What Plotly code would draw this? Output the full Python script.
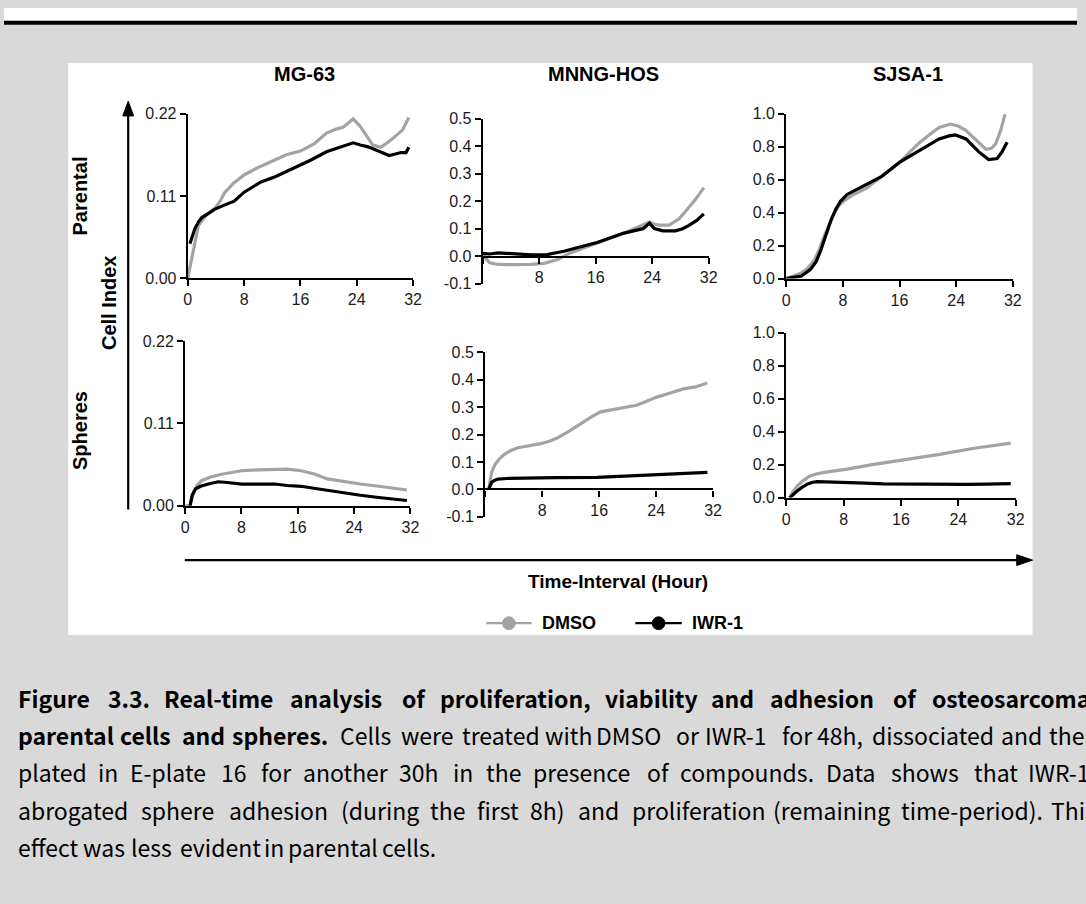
import plotly.graph_objects as go

W, H = 1086, 904

# ---------------- data (hours, cell index) ----------------
cell_lines = ["MG-63", "MNNG-HOS", "SJSA-1"]
rows = ["Parental", "Spheres"]
series_names = ["DMSO", "IWR-1"]
x_tick_vals = [0, 8, 16, 24, 32]

# MG-63 parental
mg_par_t_dmso = [0, 0.4, 0.8, 1.5, 2.5, 3.8, 4.6, 5.2, 6.5, 8.0, 10.0, 12.3, 14.0, 16.0, 18.0, 19.7, 21.0, 22.1, 23.5, 24.5, 25.5, 26.3, 27.4, 28.5, 29.5, 30.5, 31.4]
mg_par_dmso = [0.0, 0.020, 0.038, 0.070, 0.083, 0.093, 0.103, 0.114, 0.127, 0.138, 0.148, 0.158, 0.165, 0.170, 0.180, 0.194, 0.199, 0.202, 0.213, 0.203, 0.190, 0.178, 0.175, 0.182, 0.190, 0.198, 0.215]
mg_par_t_iwr = [0.3, 0.6, 1.0, 1.5, 2.0, 3.0, 3.8, 5.0, 6.6, 8.0, 10.4, 12.5, 15.1, 17.5, 19.7, 21.5, 23.5, 24.5, 25.5, 26.3, 27.5, 28.6, 29.5, 30.3, 31.0, 31.4]
mg_par_iwr = [0.046, 0.055, 0.066, 0.075, 0.081, 0.087, 0.092, 0.097, 0.103, 0.115, 0.1286, 0.136, 0.147, 0.158, 0.169, 0.175, 0.181, 0.178, 0.176, 0.173, 0.168, 0.164, 0.166, 0.168, 0.168, 0.175]

# MNNG-HOS parental
mn_par_t_dmso = [0, 0.5, 1.0, 2.2, 4.0, 6.8, 8.7, 10.6, 12.4, 14.0, 16.2, 18.0, 19.9, 21.5, 22.7, 23.6, 24.3, 25.0, 26.4, 27.8, 29.2, 30.3, 31.3]
mn_par_dmso = [0.012, -0.010, -0.024, -0.030, -0.031, -0.030, -0.026, -0.012, 0.012, 0.028, 0.047, 0.065, 0.083, 0.100, 0.115, 0.124, 0.116, 0.113, 0.113, 0.136, 0.178, 0.212, 0.249]
mn_par_t_iwr = [0, 1.0, 2.2, 4.0, 6.8, 9.1, 11.5, 14.0, 16.2, 18.0, 19.9, 21.5, 22.7, 23.6, 24.3, 25.5, 27.3, 28.3, 29.2, 30.3, 31.3]
mn_par_iwr = [0.010, 0.008, 0.012, 0.010, 0.005, 0.006, 0.018, 0.035, 0.050, 0.066, 0.083, 0.093, 0.100, 0.120, 0.100, 0.092, 0.092, 0.100, 0.112, 0.130, 0.154]

# SJSA-1 parental
sj_par_t_dmso = [0, 1.0, 2.1, 3.0, 4.0, 4.7, 5.3, 6.0, 6.7, 7.4, 8.1, 9.5, 11.4, 13.5, 16.1, 17.5, 18.9, 20.3, 21.6, 23.2, 24.3, 25.4, 26.8, 28.2, 29.0, 29.6, 30.3, 30.9]
sj_par_dmso = [0.0, 0.015, 0.034, 0.060, 0.113, 0.180, 0.252, 0.320, 0.391, 0.440, 0.470, 0.510, 0.550, 0.620, 0.708, 0.770, 0.827, 0.875, 0.917, 0.937, 0.925, 0.897, 0.840, 0.784, 0.790, 0.818, 0.900, 0.996]
sj_par_t_iwr = [0, 1.0, 2.1, 3.4, 4.2, 4.9, 5.6, 6.3, 7.0, 7.7, 8.6, 10.0, 11.4, 13.5, 16.1, 18.9, 21.6, 23.0, 23.9, 25.4, 26.3, 27.2, 28.6, 29.8, 30.5, 31.2]
sj_par_iwr = [0.0, 0.005, 0.014, 0.054, 0.100, 0.173, 0.260, 0.351, 0.420, 0.470, 0.510, 0.540, 0.570, 0.620, 0.708, 0.778, 0.847, 0.865, 0.871, 0.847, 0.810, 0.768, 0.722, 0.728, 0.770, 0.827]

# MG-63 spheres
mg_sph_t_dmso = [0, 0.7, 1.2, 1.7, 2.35, 3.5, 5.2, 8.0, 10.5, 12.7, 14.5, 16.5, 18.5, 20.2, 22.5, 24.9, 27.5, 30.5, 31.5]
mg_sph_dmso = [0.0, 0.0, 0.018, 0.027, 0.0335, 0.038, 0.042, 0.0467, 0.048, 0.0489, 0.049, 0.0467, 0.042, 0.0358, 0.032, 0.029, 0.026, 0.0227, 0.021]
mg_sph_t_iwr = [0.7, 1.0, 1.5, 2.2, 3.3, 4.7, 6.0, 8.0, 10.5, 12.7, 14.5, 16.5, 18.5, 20.2, 22.5, 24.9, 27.5, 30.5, 31.5]
mg_sph_iwr = [0.0, 0.014, 0.0227, 0.026, 0.029, 0.032, 0.031, 0.029, 0.029, 0.029, 0.027, 0.026, 0.023, 0.0205, 0.017, 0.014, 0.011, 0.0083, 0.007]

# MNNG-HOS spheres
mn_sph_t_dmso = [0.5, 0.7, 0.9, 1.4, 2.0, 2.7, 3.6, 4.6, 6.0, 7.8, 9.0, 10.1, 11.8, 13.4, 14.8, 16.2, 18.5, 21.25, 22.5, 24.0, 26.0, 27.7, 29.5, 31.2]
mn_sph_dmso = [0.0, 0.035, 0.062, 0.092, 0.112, 0.128, 0.142, 0.152, 0.158, 0.167, 0.176, 0.1875, 0.213, 0.241, 0.263, 0.283, 0.295, 0.307, 0.320, 0.336, 0.352, 0.366, 0.374, 0.388]
mn_sph_t_iwr = [0.5, 0.7, 0.9, 1.3, 1.8, 3.0, 6.4, 10.0, 15.7, 20.3, 24.9, 28.0, 31.2]
mn_sph_iwr = [0.0, 0.015, 0.026, 0.033, 0.038, 0.040, 0.042, 0.043, 0.044, 0.050, 0.056, 0.059, 0.062]

# SJSA-1 spheres
sj_sph_t_dmso = [0.5, 0.9, 1.6, 2.4, 3.4, 4.3, 5.3, 8.5, 12.2, 16.8, 21.4, 26.0, 31.3]
sj_sph_dmso = [0.0, 0.035, 0.073, 0.105, 0.133, 0.145, 0.153, 0.173, 0.202, 0.232, 0.262, 0.298, 0.331]
sj_sph_t_iwr = [0.5, 0.9, 1.6, 2.3, 3.0, 3.7, 4.3, 5.5, 8.5, 11.0, 13.5, 17.0, 20.4, 25.0, 28.0, 31.3]
sj_sph_iwr = [0.0, 0.018, 0.043, 0.065, 0.083, 0.093, 0.097, 0.096, 0.093, 0.088, 0.083, 0.081, 0.080, 0.080, 0.082, 0.085]

# y-axis ticks per column
mg_y_ticks = [0.0, 0.11, 0.22]
mn_y_ticks = [-0.1, 0.0, 0.1, 0.2, 0.3, 0.4, 0.5]
sj_y_ticks = [0.0, 0.2, 0.4, 0.6, 0.8, 1.0]

# caption: (bold part, normal part, justified?)
caption_lines = [
    ("Figure 3.3. Real-time analysis of proliferation, viability and adhesion of osteosarcoma", "", True),
    ("parental cells and spheres.", "Cells were treated with DMSO or IWR-1 for 48h, dissociated and then", True),
    ("", "plated in E-plate 16 for another 30h in the presence of compounds. Data shows that IWR-1", True),
    ("", "abrogated sphere adhesion (during the first 8h) and proliferation (remaining time-period). This", True),
    ("", "effect was less evident in parental cells.", False),
]

# ---------------- styling ----------------
GRAY = "#a3a3a3"
BLACK = "#000000"
BG = "#d9d9d9"
FONT = "Liberation Sans"
TICK_FONT = dict(family=FONT, size=16, color="#1a1a1a")
CAP_FONT = "Noto Sans CJK KR"
CAP_SIZE = 23
CAP_WF = 1.07


def pxx(x):
    return x / W


def pyy(y):
    return 1 - y / H


# approximate Helvetica/Arial advance widths (1/1000 em) used to lay out justified words
_REG = dict(zip(" ()-.,:0123456789", [278, 333, 333, 333, 278, 278, 278] + [556] * 10))
_REG.update(dict(zip("ABCDEFGHIJKLMNOPQRSTUVWXYZ",
                     [667, 667, 722, 722, 667, 611, 778, 722, 278, 500, 667, 556, 833, 722, 778, 667, 778, 722, 667, 611, 722, 667, 944, 667, 667, 611])))
_REG.update(dict(zip("abcdefghijklmnopqrstuvwxyz",
                     [556, 556, 500, 556, 556, 278, 556, 556, 222, 222, 500, 222, 833, 556, 556, 556, 556, 333, 500, 278, 556, 500, 722, 500, 500, 500])))
_BOLD = dict(zip(" ()-.,:0123456789", [278, 333, 333, 333, 278, 278, 333] + [556] * 10))
_BOLD.update(dict(zip("ABCDEFGHIJKLMNOPQRSTUVWXYZ",
                      [722, 722, 722, 722, 667, 611, 778, 722, 278, 556, 722, 611, 833, 722, 778, 667, 778, 722, 667, 611, 722, 667, 944, 667, 667, 611])))
_BOLD.update(dict(zip("abcdefghijklmnopqrstuvwxyz",
                      [556, 611, 556, 611, 556, 333, 611, 611, 278, 278, 556, 278, 889, 611, 611, 611, 611, 389, 556, 333, 611, 556, 778, 556, 556, 500])))


def text_w(s, bold):
    tbl = _BOLD if bold else _REG
    return sum(tbl.get(c, 556) for c in s) / 1000 * CAP_SIZE * CAP_WF


# pixel geometry of each panel: (x0, x1, y_top, y_bottom)
panels = [
    dict(t=(mg_par_t_dmso, mg_par_t_iwr), v=(mg_par_dmso, mg_par_iwr), box=(186, 414, 107.7, 275.3),
         yr=[0, 0.22], yt=mg_y_ticks, fmt="{:.2f}", zero_mid=None),
    dict(t=(mn_par_t_dmso, mn_par_t_iwr), v=(mn_par_dmso, mn_par_iwr), box=(484.5, 713.3, 112.7, 281.0),
         yr=[-0.1, 0.5], yt=mn_y_ticks, fmt="{:.1f}", zero_mid=253.3),
    dict(t=(sj_par_t_dmso, sj_par_t_iwr), v=(sj_par_dmso, sj_par_iwr), box=(791.7, 1021, 107.7, 275.7),
         yr=[0, 1.0], yt=sj_y_ticks, fmt="{:.1f}", zero_mid=None),
    dict(t=(mg_sph_t_dmso, mg_sph_t_iwr), v=(mg_sph_dmso, mg_sph_iwr), box=(183.3, 411.3, 339.3, 507.3),
         yr=[0, 0.22], yt=mg_y_ticks, fmt="{:.2f}", zero_mid=None),
    dict(t=(mn_sph_t_dmso, mn_sph_t_iwr), v=(mn_sph_dmso, mn_sph_iwr), box=(487.0, 717.7, 351.0, 518.6),
         yr=[-0.1, 0.5], yt=mn_y_ticks, fmt="{:.1f}", zero_mid=490.7),
    dict(t=(sj_sph_t_dmso, sj_sph_t_iwr), v=(sj_sph_dmso, sj_sph_iwr), box=(791.7, 1024.0, 331.0, 499.0),
         yr=[0, 1.0], yt=sj_y_ticks, fmt="{:.1f}", zero_mid=None),
]

fig = go.Figure()
layout = {}
for i, p in enumerate(panels, start=1):
    xa = "x" if i == 1 else f"x{i}"
    ya = "y" if i == 1 else f"y{i}"
    for k, (name, col) in enumerate(zip(series_names, [GRAY, BLACK])):
        fig.add_trace(go.Scatter(
            x=p["t"][k], y=p["v"][k], xaxis=xa, yaxis=ya, mode="lines",
            line=dict(color=col, width=3.2), showlegend=False, name=name,
        ))
    x0, x1, yt, yb = p["box"]
    xkey = "xaxis" if i == 1 else f"xaxis{i}"
    ykey = "yaxis" if i == 1 else f"yaxis{i}"
    xticktext = [str(v) for v in x_tick_vals]
    xdict = dict(domain=[pxx(x0), pxx(x1)], range=[0, 32], tickvals=x_tick_vals,
                 showline=True, linecolor="black", linewidth=2.2, ticks="outside",
                 ticklen=6, tickwidth=2.2, tickcolor="black", showgrid=False,
                 zeroline=False, tickfont=TICK_FONT, fixedrange=True)
    if p["zero_mid"] is not None:
        xticktext[0] = ""
        xdict.update(anchor="free", position=pyy(p["zero_mid"]))
    else:
        xdict.update(anchor=ya)
    xdict["ticktext"] = xticktext
    layout[xkey] = xdict
    layout[ykey] = dict(domain=[pyy(yb), pyy(yt)], range=p["yr"], tickvals=p["yt"],
                        ticktext=[p["fmt"].format(v) for v in p["yt"]], anchor=xa,
                        showline=True, linecolor="black", linewidth=2.2, ticks="outside",
                        ticklen=6, tickwidth=2.2, tickcolor="black", showgrid=False,
                        zeroline=False, tickfont=TICK_FONT, fixedrange=True)

annotations = []
# column titles
for name, cx in zip(cell_lines, [304, 607, 915]):
    annotations.append(dict(text=name, x=pxx(cx), y=pyy(67), xref="paper", yref="paper",
                            showarrow=False, xanchor="center", yanchor="middle",
                            font=dict(family=FONT, size=20, color="black", weight="bold")))
# row labels
for name, cy in zip(rows, [192, 431]):
    annotations.append(dict(text=name, x=pxx(77), y=pyy(cy), xref="paper", yref="paper",
                            showarrow=False, xanchor="center", yanchor="middle", textangle=-90,
                            font=dict(family=FONT, size=20, color="black", weight="bold")))
annotations.append(dict(text="Cell Index", x=pxx(107), y=pyy(301), xref="paper", yref="paper",
                        showarrow=False, xanchor="center", yanchor="middle", textangle=-90,
                        font=dict(family=FONT, size=20, color="black", weight="bold")))
annotations.append(dict(text="Time-Interval (Hour)", x=pxx(621), y=pyy(585), xref="paper", yref="paper",
                        showarrow=False, xanchor="center", yanchor="middle",
                        font=dict(family=FONT, size=19, color="black", weight="bold")))

# legend (drawn as line + dot glyphs with labels, like the original figure)
legend_items = [(series_names[0], GRAY, 488, 534), (series_names[1], BLACK, 639, 686)]
LEG_Y = 627
shapes = []
for name, col, lx0, lx1 in legend_items:
    cx = (lx0 + lx1) / 2
    shapes.append(dict(type="line", xref="paper", yref="paper", x0=pxx(lx0), x1=pxx(lx1),
                       y0=pyy(LEG_Y), y1=pyy(LEG_Y), line=dict(color=col, width=2.2)))
    shapes.append(dict(type="circle", xref="paper", yref="paper", x0=pxx(cx - 6.5), x1=pxx(cx + 6.5),
                       y0=pyy(LEG_Y + 6.5), y1=pyy(LEG_Y - 6.5), fillcolor=col, line=dict(color=col, width=1)))
    annotations.append(dict(text=name, x=pxx(lx1 + 8), y=pyy(LEG_Y), xref="paper", yref="paper",
                            showarrow=False, xanchor="left", yanchor="middle",
                            font=dict(family=FONT, size=18, color="black", weight="bold")))

# caption, justified word by word (lines 1-4 run past the right edge like the original)
LEFT, RIGHT = 12, 1104
for j, (bold, normal, justify) in enumerate(caption_lines):
    words = [(w, True) for w in bold.split()] + [(w, False) for w in normal.split()]
    widths = [text_w(w, b) for w, b in words]
    if justify and len(words) > 1:
        gap = (RIGHT - LEFT - sum(widths)) / (len(words) - 1)
    else:
        gap = 5.5
    xcur = LEFT
    ycap = 703 + 38 * j
    for (w, b), wd in zip(words, widths):
        annotations.append(dict(text=f"<b>{w}</b>" if b else w, x=pxx(xcur), y=pyy(ycap),
                                xref="paper", yref="paper", showarrow=False,
                                xanchor="left", yanchor="middle",
                                font=dict(family=CAP_FONT, size=CAP_SIZE, color="#000000")))
        xcur += wd + gap

shapes += [
    # top white strip & black rule
    dict(type="rect", xref="paper", yref="paper", x0=0, x1=1, y0=pyy(13), y1=1,
         fillcolor="white", line=dict(width=0), layer="below"),
    dict(type="rect", xref="paper", yref="paper", x0=0, x1=1, y0=pyy(17), y1=pyy(13),
         fillcolor="black", line=dict(width=0), layer="below"),
    # white figure panel
    dict(type="rect", xref="paper", yref="paper", x0=pxx(65), x1=pxx(1041), y0=pyy(639), y1=pyy(56),
         fillcolor="white", line=dict(width=0), layer="below"),
    # vertical arrow
    dict(type="line", xref="paper", yref="paper", x0=pxx(125.7), x1=pxx(125.7), y0=pyy(511), y1=pyy(108),
         line=dict(color="black", width=2.2)),
    dict(type="path", xref="paper", yref="paper",
         path=f"M {pxx(125.7)},{pyy(95)} L {pxx(120.2)},{pyy(110)} L {pxx(131.2)},{pyy(110)} Z",
         fillcolor="black", line=dict(color="black", width=1)),
    # horizontal arrow
    dict(type="line", xref="paper", yref="paper", x0=pxx(183), x1=pxx(1027), y0=pyy(562.7), y1=pyy(562.7),
         line=dict(color="black", width=2.2)),
    dict(type="path", xref="paper", yref="paper",
         path=f"M {pxx(1041)},{pyy(562.7)} L {pxx(1025)},{pyy(557.2)} L {pxx(1025)},{pyy(568.2)} Z",
         fillcolor="black", line=dict(color="black", width=1)),
]

fig.update_layout(
    width=W, height=H, margin=dict(l=0, r=0, t=0, b=0),
    paper_bgcolor=BG, plot_bgcolor="rgba(0,0,0,0)",
    showlegend=False,
    annotations=annotations, shapes=shapes,
    **layout,
)

fig.write_html("out.html")
